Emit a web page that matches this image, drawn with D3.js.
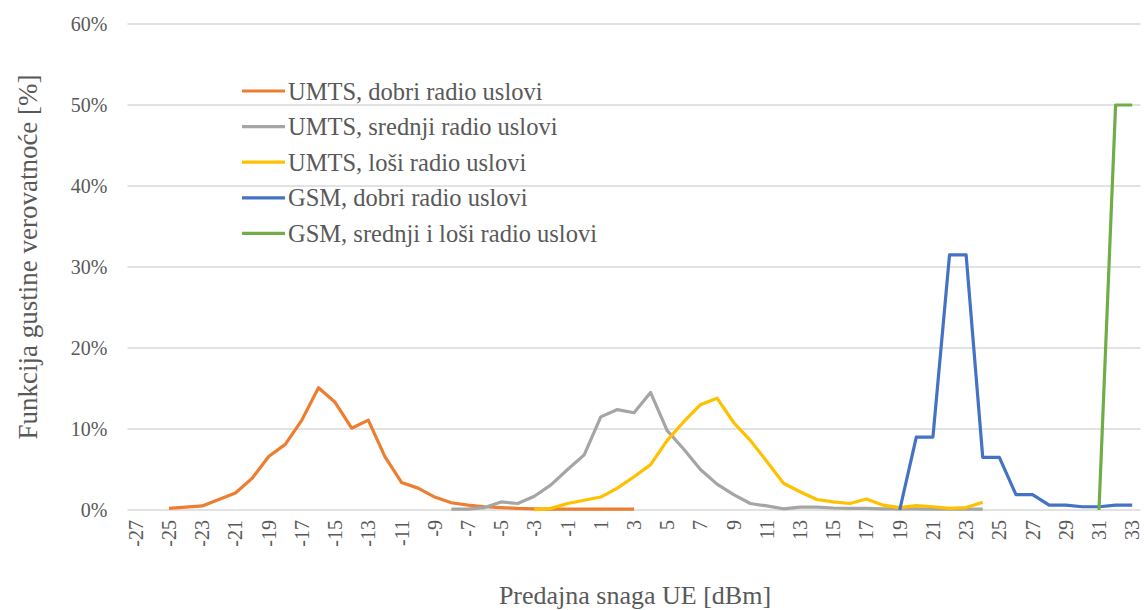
<!DOCTYPE html>
<html>
<head>
<meta charset="utf-8">
<script src="https://cdn.jsdelivr.net/npm/d3@7"></script>
<style>
  html, body { margin: 0; padding: 0; background: #fff; }
  svg text { font-family: "Liberation Serif", "Times New Roman", serif; fill: #595959; }
</style>
</head>
<body>
<svg id="chart" width="1147" height="610"></svg>
<script>
// ---- data ----
const categories = [-27,-26,-25,-24,-23,-22,-21,-20,-19,-18,-17,-16,-15,-14,-13,-12,-11,-10,-9,-8,-7,-6,-5,-4,-3,-2,-1,0,1,2,3,4,5,6,7,8,9,10,11,12,13,14,15,16,17,18,19,20,21,22,23,24,25,26,27,28,29,30,31,32,33];
const xTickLabels = [-27,-25,-23,-21,-19,-17,-15,-13,-11,-9,-7,-5,-3,-1,1,3,5,7,9,11,13,15,17,19,21,23,25,27,29,31,33];
const yTickLabels = [0, 0.1, 0.2, 0.3, 0.4, 0.5, 0.6];

const umtsGoodX = [-25,-24,-23,-22,-21,-20,-19,-18,-17,-16,-15,-14,-13,-12,-11,-10,-9,-8,-7,-6,-5,-4,-3,-2,-1,0,1,2,3];
const umtsGoodY = [0.2,0.35,0.5,1.3,2.1,3.9,6.6,8.1,11.1,15.1,13.3,10.1,11.1,6.6,3.4,2.7,1.6,0.9,0.6,0.4,0.3,0.2,0.15,0.1,0.1,0.1,0.1,0.1,0.1];

const umtsMidX = [-8,-7,-6,-5,-4,-3,-2,-1,0,1,2,3,4,5,6,7,8,9,10,11,12,13,14,15,16,17,18,19,20,21,22,23,24];
const umtsMidY = [0.1,0.1,0.3,1.0,0.8,1.7,3.1,5.0,6.8,11.5,12.4,12.0,14.5,9.8,7.5,5.0,3.2,1.9,0.8,0.5,0.15,0.35,0.35,0.25,0.2,0.2,0.15,0.15,0.15,0.1,0.1,0.1,0.1];

const umtsBadX = [-3,-2,-1,0,1,2,3,4,5,6,7,8,9,10,11,12,13,14,15,16,17,18,19,20,21,22,23,24];
const umtsBadY = [0.05,0.2,0.8,1.2,1.6,2.7,4.1,5.6,8.6,10.9,13.0,13.8,10.8,8.6,6.0,3.3,2.25,1.3,1.0,0.8,1.35,0.6,0.3,0.55,0.4,0.2,0.3,0.95];

const gsmGoodX = [19,20,21,22,23,24,25,26,27,28,29,30,31,32,33];
const gsmGoodY = [0,9.0,9.0,31.5,31.5,6.5,6.5,1.9,1.9,0.6,0.6,0.4,0.4,0.6,0.6];

const gsmBadX = [31,32,33];
const gsmBadY = [0,50,50];

const seriesNames = ["UMTS, dobri radio uslovi","UMTS, srednji radio uslovi","UMTS, loši radio uslovi","GSM, dobri radio uslovi","GSM, srednji i loši radio uslovi"];
const seriesColors = ["#ED7D31","#A5A5A5","#FFC000","#4472C4","#70AD47"];
const seriesX = [umtsGoodX, umtsMidX, umtsBadX, gsmGoodX, gsmBadX];
const seriesY = [umtsGoodY, umtsMidY, umtsBadY, gsmGoodY, gsmBadY];

const xTitle = "Predajna snaga UE [dBm]";
const yTitle = "Funkcija gustine verovatnoće [%]";

// ---- layout ----
const svg = d3.select("#chart");
const plot = {left: 127.5, right: 1140.5, top: 24, bottom: 510};

const x = d3.scaleBand().domain(categories).range([plot.left, plot.right]);
const xc = v => x(v) + x.bandwidth() / 2;
const y = d3.scaleLinear().domain([0, 0.6]).range([plot.bottom, plot.top]);

// gridlines
svg.append("g").selectAll("line").data(yTickLabels).join("line")
  .attr("x1", plot.left).attr("x2", plot.right)
  .attr("y1", d => y(d)).attr("y2", d => y(d))
  .attr("stroke", "#D9D9D9").attr("stroke-width", 1.3);

// y axis
const yAxis = d3.axisLeft(y).tickValues(yTickLabels).tickFormat(d3.format(".0%")).tickSize(0).tickPadding(20);
const gy = svg.append("g").attr("transform", `translate(${plot.left},0)`).call(yAxis);
gy.select(".domain").remove();
gy.selectAll("text").attr("font-size", 20).style("fill", "#595959");

// x axis
const xAxis = d3.axisBottom(x).tickValues(xTickLabels).tickSize(0).tickPadding(0);
const gx = svg.append("g").attr("transform", `translate(0,${plot.bottom})`).call(xAxis);
gx.select(".domain").remove();
gx.selectAll("text")
  .attr("font-size", 20)
  .attr("transform", "rotate(-90)")
  .attr("text-anchor", "end")
  .attr("dy", "0.35em")
  .attr("x", -10)
  .attr("y", 0)
  .style("fill", "#595959");

// lines
const line = d3.line().x(d => xc(d[0])).y(d => y(d[1] / 100));
seriesNames.forEach((name, i) => {
  const pts = seriesX[i].map((xv, j) => [xv, seriesY[i][j]]);
  svg.append("path").datum(pts)
    .attr("d", line)
    .attr("fill", "none")
    .attr("stroke", seriesColors[i])
    .attr("stroke-width", 3.2)
    .attr("stroke-linejoin", "round")
    .attr("stroke-linecap", "butt");
});

// legend
const lg = svg.append("g").attr("transform", "translate(242,91)");
seriesNames.forEach((name, i) => {
  const row = lg.append("g").attr("transform", `translate(0,${i * 35.6})`);
  row.append("line").attr("x1", 0).attr("x2", 43).attr("y1", 0).attr("y2", 0)
    .attr("stroke", seriesColors[i]).attr("stroke-width", 3.2);
  row.append("text").attr("x", 46).attr("y", 0).attr("dy", "0.35em")
    .attr("font-size", 24.5).text(name);
});

// axis titles
svg.append("text").attr("x", (plot.left + plot.right) / 2 + 1).attr("y", 604)
  .attr("text-anchor", "middle").attr("font-size", 26).text(xTitle);
svg.append("text").attr("transform", `translate(37,257) rotate(-90)`)
  .attr("text-anchor", "middle").attr("font-size", 27).text(yTitle);
</script>
</body>
</html>
